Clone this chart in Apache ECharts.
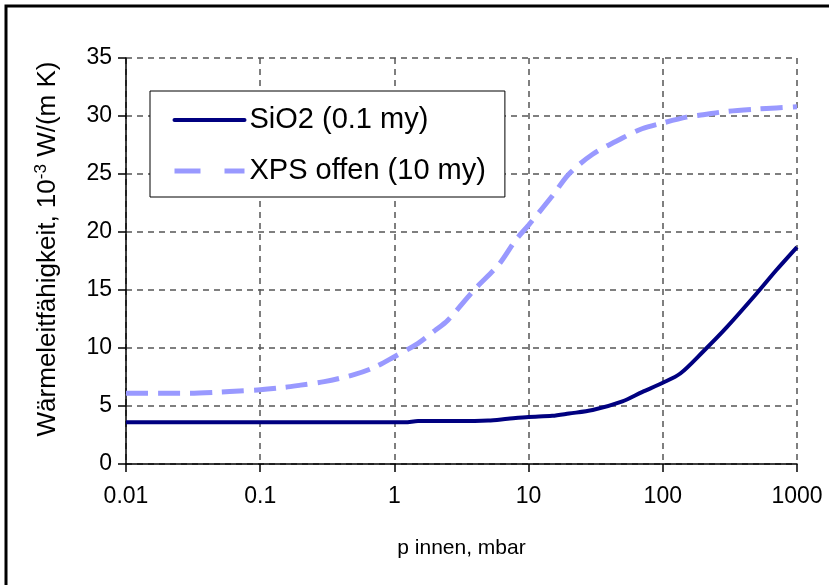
<!DOCTYPE html>
<html>
<head>
<meta charset="utf-8">
<script src="https://cdn.jsdelivr.net/npm/echarts@6/dist/echarts.min.js"></script>
<style>html,body{margin:0;padding:0;background:#fff}#c{width:829px;height:585px}</style>
</head>
<body>
<div id="c"></div>
<script>
const seriesNames = ['SiO2 (0.1 my)', 'XPS offen (10 my)'];
const sio2X = [0.01,0.1,1,1.2,1.5,3,5,7,10,15,20,30,50,70,100,135,200,300,500,700,1000];
const sio2Y = [3.6,3.6,3.6,3.6,3.7,3.7,3.75,3.9,4.05,4.15,4.35,4.65,5.4,6.2,7.0,7.8,9.7,11.8,14.7,16.7,18.7];
const xpsX = [0.01,0.02,0.03,0.05,0.07,0.1,0.15,0.2,0.3,0.5,0.7,1,1.5,2,2.5,4,6,8,10,15,20,30,50,70,100,150,200,300,500,700,1000];
const xpsY = [6.1,6.1,6.1,6.2,6.3,6.4,6.6,6.8,7.1,7.7,8.3,9.25,10.4,11.5,12.4,15.1,17.2,19.3,20.6,23.1,25.0,26.7,28.1,28.9,29.4,29.9,30.1,30.4,30.6,30.7,30.8];
const xTickLabels = {0.01:'0.01',0.1:'0.1',1:'1',10:'10',100:'100',1000:'1000'};

const font = '"Liberation Sans", Arial, sans-serif';
const chart = echarts.init(document.getElementById('c'), null, {renderer:'canvas'});
const gridLine = {show:true, lineStyle:{color:'#555', type:[6,5], width:1.5}};
chart.setOption({
  animation:false,
  backgroundColor:'#fff',
  textStyle:{fontFamily:font},
  graphic:[{type:'rect', shape:{x:6, y:6, width:900, height:700}, style:{fill:'none', stroke:'#000', lineWidth:3}, silent:true}],
  grid:{left:126, right:32, top:58, bottom:121},
  legend:{
    orient:'vertical', left:150, top:91,
    padding:[14, 19, 11, 22],
    borderColor:'#000', borderWidth:1, backgroundColor:'#fff',
    itemWidth:70, itemHeight:20, itemGap:21,
    itemStyle:{color:'rgba(0,0,0,0)', borderWidth:0, opacity:0},
    textStyle:{fontSize:29, lineHeight:30, color:'#000', fontFamily:font},
    data:[
      {name:seriesNames[0], lineStyle:{width:4, color:'#000080', cap:'round'}},
      {name:seriesNames[1], lineStyle:{width:5, color:'#9999FF', type:[26,24]}}
    ]
  },
  xAxis:{
    type:'log', logBase:10, min:0.01, max:1000,
    name:'p innen, mbar', nameLocation:'middle', nameGap:74,
    nameTextStyle:{fontSize:21, color:'#000', fontFamily:font},
    axisLine:{show:true, onZero:false, lineStyle:{color:'#000', width:1.5}},
    axisTick:{show:true, inside:false, length:8, lineStyle:{color:'#000', width:1.5}},
    minorTick:{show:false},
    axisLabel:{fontSize:23, color:'#000', margin:21, fontFamily:font,
      formatter:function(v){ const k=Math.round(Math.log10(v)); const key=Math.pow(10,k); return xTickLabels[key] !== undefined ? xTickLabels[key] : (k<0 ? key.toFixed(-k) : String(key)); }},
    splitLine:gridLine
  },
  yAxis:{
    type:'value', min:0, max:35, interval:5,
    name:'{a|Wärmeleitfähigkeit, 10}{s|-3}{a| W/(m K)}',
    nameLocation:'middle', nameGap:64, nameRotate:90,
    nameTextStyle:{color:'#000', padding:[0,0,0,24], rich:{a:{fontSize:26, color:'#000', fontFamily:font}, s:{fontSize:17, color:'#000', fontFamily:font, padding:[0,0,12,0]}}},
    axisLine:{show:true, lineStyle:{color:'#000', width:1.5}},
    axisTick:{show:true, length:8, lineStyle:{color:'#000', width:1.5}},
    axisLabel:{fontSize:23, color:'#000', margin:14, fontFamily:font},
    splitLine:gridLine
  },
  series:[
    {name:seriesNames[0], type:'line', symbol:'none', showSymbol:false, smooth:0.3,
     lineStyle:{color:'#000080', width:4}, itemStyle:{color:'#000080'},
     data:sio2X.map((x,i)=>[x, sio2Y[i]]), z:3},
    {name:seriesNames[1], type:'line', symbol:'none', showSymbol:false, smooth:0.3,
     lineStyle:{color:'#9999FF', width:5, type:[22,10]}, itemStyle:{color:'#9999FF'},
     data:xpsX.map((x,i)=>[x, xpsY[i]]), z:2}
  ]
});
</script>
</body>
</html>
